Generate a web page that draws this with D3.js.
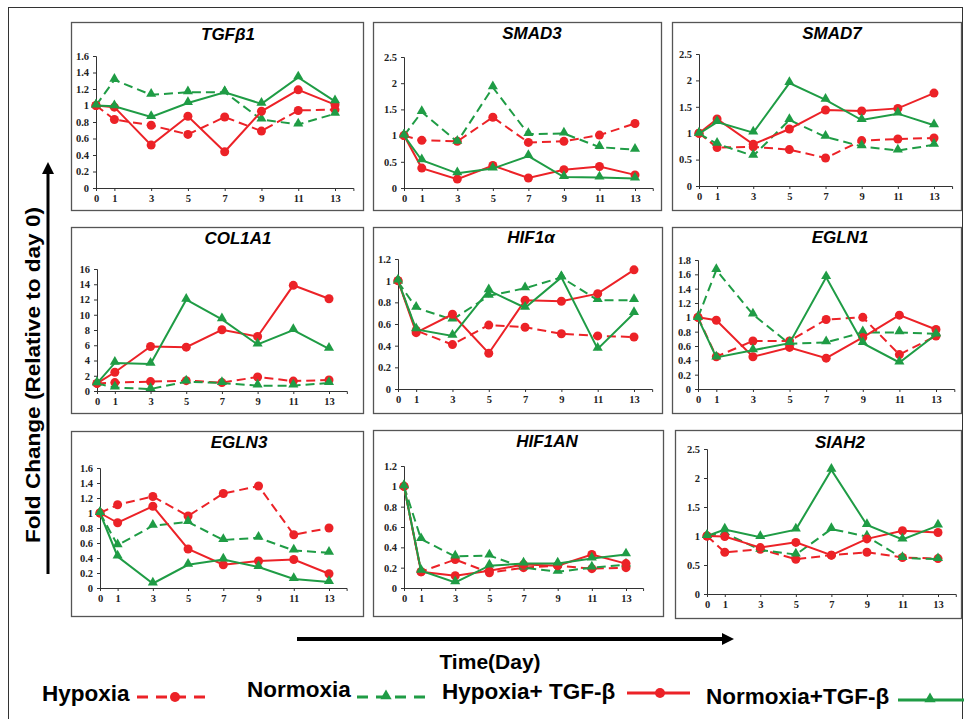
<!DOCTYPE html>
<html>
<head>
<meta charset="utf-8">
<script src="https://cdn.jsdelivr.net/npm/d3@7"></script>
<style>
body { margin: 0; background: #fff; }
svg { display: block; font-family: "Liberation Sans", Arial, sans-serif; }
.axis .tick text { font-family: "Liberation Serif", "Times New Roman", serif; font-weight: bold; font-size: 10.5px; fill: #222; }
.axis path, .axis line { stroke: #333; }
</style>
</head>
<body>
<script>
// days on the x axis
var days = [0, 1, 3, 5, 7, 9, 11, 13];
var seriesNames = ["Hypoxia", "Normoxia", "Hypoxia+ TGF-β", "Normoxia+TGF-β"];
var genes = ["TGFβ1", "SMAD3", "SMAD7", "COL1A1", "HIF1α", "EGLN1", "EGLN3", "HIF1AN", "SIAH2"];

// y axis max and tick step per panel
var yMax  = [1.6, 2.5, 2.5, 16, 1.2, 1.8, 1.6, 1.2, 2.5];
var yStep = [0.2, 0.5, 0.5, 2, 0.2, 0.2, 0.2, 0.2, 0.5];

// values per gene: hypoxia, normoxia, hypoxia+tgf, normoxia+tgf
var tgfb1 = [
  [1.0, 0.83, 0.76, 0.65, 0.86, 0.69, 0.94, 0.95],
  [1.0, 1.31, 1.13, 1.16, 1.16, 0.83, 0.77, 0.90],
  [1.0, 0.98, 0.52, 0.87, 0.44, 0.93, 1.19, 1.01],
  [1.0, 0.99, 0.86, 1.03, 1.16, 1.02, 1.34, 1.05]
];
var smad3 = [
  [1.0, 0.91, 0.89, 1.35, 0.87, 0.89, 1.01, 1.23],
  [1.0, 1.45, 0.88, 1.92, 1.03, 1.04, 0.78, 0.73],
  [1.0, 0.38, 0.17, 0.43, 0.19, 0.35, 0.41, 0.25],
  [1.0, 0.53, 0.28, 0.37, 0.61, 0.21, 0.20, 0.18]
];
var smad7 = [
  [1.0, 0.73, 0.74, 0.69, 0.53, 0.86, 0.89, 0.91],
  [0.99, 0.80, 0.57, 1.25, 0.93, 0.75, 0.67, 0.78],
  [1.0, 1.27, 0.79, 1.08, 1.44, 1.42, 1.47, 1.76],
  [0.99, 1.21, 1.01, 1.95, 1.63, 1.25, 1.37, 1.15]
];
var col1a1 = [
  [1.0, 1.1, 1.23, 1.36, 1.1, 1.84, 1.3, 1.45],
  [1.0, 0.44, 0.26, 1.23, 1.05, 0.7, 0.7, 1.05],
  [1.0, 2.46, 5.83, 5.75, 8.03, 7.15, 13.86, 12.1],
  [1.0, 3.68, 3.55, 11.97, 9.39, 6.1, 7.98, 5.53]
];
var hif1a = [
  [1.0, 0.54, 0.41, 0.59, 0.57, 0.51, 0.49, 0.48],
  [0.99, 0.75, 0.64, 0.86, 0.93, 1.03, 0.82, 0.82],
  [1.0, 0.52, 0.69, 0.33, 0.82, 0.81, 0.88, 1.10],
  [1.0, 0.55, 0.49, 0.91, 0.75, 1.03, 0.37, 0.70]
];
var egln1 = [
  [1.0, 0.45, 0.67, 0.67, 0.97, 1.0, 0.48, 0.74],
  [1.0, 1.66, 1.04, 0.63, 0.65, 0.79, 0.79, 0.77],
  [1.0, 0.96, 0.45, 0.58, 0.43, 0.72, 1.03, 0.83],
  [0.99, 0.44, 0.54, 0.64, 1.56, 0.64, 0.37, 0.76]
];
var egln3 = [
  [1.0, 1.11, 1.22, 0.96, 1.26, 1.36, 0.71, 0.80],
  [1.0, 0.57, 0.83, 0.88, 0.64, 0.67, 0.50, 0.47],
  [1.0, 0.87, 1.09, 0.52, 0.31, 0.36, 0.38, 0.19],
  [1.0, 0.42, 0.06, 0.31, 0.38, 0.28, 0.12, 0.08]
];
var hif1an = [
  [1.0, 0.16, 0.28, 0.15, 0.20, 0.22, 0.19, 0.20],
  [1.0, 0.48, 0.31, 0.32, 0.20, 0.16, 0.20, 0.23],
  [1.0, 0.16, 0.12, 0.17, 0.23, 0.22, 0.33, 0.24],
  [1.0, 0.17, 0.055, 0.22, 0.24, 0.24, 0.29, 0.33]
];
var siah2 = [
  [1.0, 0.72, 0.77, 0.60, 0.67, 0.72, 0.63, 0.61],
  [1.0, 1.05, 0.76, 0.68, 1.12, 0.99, 0.62, 0.60],
  [1.0, 0.99, 0.80, 0.89, 0.67, 0.95, 1.09, 1.06],
  [1.0, 1.11, 0.98, 1.11, 2.14, 1.19, 0.94, 1.18]
];
var geneValues = [tgfb1, smad3, smad7, col1a1, hif1a, egln1, egln3, hif1an, siah2];

var red = "#ec2227", green = "#1f9c45";
var seriesStyle = [
  {color: red,   dash: "9,5", shape: "circle"},
  {color: green, dash: "9,5", shape: "triangle"},
  {color: red,   dash: null,  shape: "circle"},
  {color: green, dash: null,  shape: "triangle"}
];

// panel layout: box, y-axis x, y of zero, y of max, x of day 13, title position
var layout = [
  {box: [71, 22, 363, 210],  ax: 96,  y0: 188, yTop: 56,  x13: 335, tx: 228, ty: 40},
  {box: [373, 22, 661, 210], ax: 404, y0: 188, yTop: 57,  x13: 635, tx: 532, ty: 39},
  {box: [672, 22, 961, 210], ax: 699, y0: 186, yTop: 54,  x13: 934, tx: 832, ty: 39},
  {box: [71, 227, 363, 413], ax: 97,  y0: 391, yTop: 269, x13: 329, tx: 238, ty: 244},
  {box: [373, 227, 662, 413],ax: 398, y0: 389, yTop: 259, x13: 634, tx: 531, ty: 243},
  {box: [672, 227, 961, 413],ax: 698, y0: 389, yTop: 260, x13: 936, tx: 840, ty: 243},
  {box: [71, 431, 363, 616], ax: 100, y0: 588, yTop: 468, x13: 329, tx: 239, ty: 448},
  {box: [373, 430, 663, 616],ax: 404, y0: 588, yTop: 466, x13: 626, tx: 547, ty: 447},
  {box: [675, 430, 961, 618],ax: 707, y0: 594, yTop: 449, x13: 938, tx: 840, ty: 448}
];

var svg = d3.select("body").append("svg")
  .attr("width", 964)
  .attr("height", 719);

// outer frame
svg.append("rect")
  .attr("x", 8.5).attr("y", 7.5)
  .attr("width", 954).attr("height", 720)
  .attr("fill", "none").attr("stroke", "#333").attr("stroke-width", 1);

function marker(g, shape, color, x, y, big) {
  if (shape == "circle") {
    g.append("circle").attr("cx", x).attr("cy", y).attr("r", big ? 5 : 4.5).attr("fill", color);
  } else {
    g.append("path")
      .attr("d", d3.symbol().type(d3.symbolTriangle).size(big ? 55 : 44)())
      .attr("transform", "translate(" + x + "," + (y - 1) + ")")
      .attr("fill", color);
  }
}

geneValues.forEach(function(vals, i) {
  var L = layout[i];
  var g = svg.append("g");

  g.append("rect")
    .attr("x", L.box[0] + 0.5).attr("y", L.box[1] + 0.5)
    .attr("width", L.box[2] - L.box[0]).attr("height", L.box[3] - L.box[1])
    .attr("fill", "#fff").attr("stroke", "#555").attr("stroke-width", 1.3);

  var x = d3.scaleLinear().domain([0, 14]).range([L.ax, L.ax + (L.x13 - L.ax) * 14 / 13]);
  var y = d3.scaleLinear().domain([0, yMax[i]]).range([L.y0, L.yTop]);

  var yTicks = d3.range(0, yMax[i] + yStep[i] / 2, yStep[i]);

  g.append("g").attr("class", "axis")
    .attr("transform", "translate(0," + L.y0 + ")")
    .call(d3.axisBottom(x).tickValues(days).tickSize(3).tickPadding(4).tickFormat(d3.format("d")));

  g.append("g").attr("class", "axis")
    .attr("transform", "translate(" + L.ax + ",0)")
    .call(d3.axisLeft(y).tickValues(yTicks).tickSize(3).tickPadding(4)
      .tickFormat(function(d) { return String(+d.toFixed(1)); }));

  g.selectAll(".axis .domain").attr("stroke-width", 1);

  // title
  g.append("text")
    .attr("x", L.tx).attr("y", L.ty)
    .attr("text-anchor", "middle")
    .style("font-size", "17px").style("font-weight", "bold").style("font-style", "italic")
    .text(genes[i]);

  var line = d3.line()
    .x(function(d, j) { return x(days[j]); })
    .y(function(d) { return y(d); });

  vals.forEach(function(s, k) {
    var st = seriesStyle[k];
    g.append("path")
      .attr("d", line(s))
      .attr("fill", "none")
      .attr("stroke", st.color)
      .attr("stroke-width", 2)
      .attr("stroke-dasharray", st.dash);
    s.forEach(function(v, j) {
      marker(g, st.shape, st.color, x(days[j]), y(v), false);
    });
  });
});

// y label + arrow
svg.append("text")
  .attr("transform", "translate(40,375) rotate(-90)")
  .attr("text-anchor", "middle")
  .attr("textLength", 336).attr("lengthAdjust", "spacingAndGlyphs")
  .style("font-size", "20px").style("font-weight", "bold")
  .text("Fold Change (Relative to day 0)");

svg.append("line")
  .attr("x1", 48).attr("x2", 48).attr("y1", 574).attr("y2", 172)
  .attr("stroke", "#000").attr("stroke-width", 3);
svg.append("path").attr("d", "M42,174 L48,162 L54,174 Z").attr("fill", "#000");

// x label + arrow
svg.append("line")
  .attr("x1", 297).attr("x2", 724).attr("y1", 639).attr("y2", 639)
  .attr("stroke", "#000").attr("stroke-width", 4);
svg.append("path").attr("d", "M722,633 L734,639 L722,645 Z").attr("fill", "#000");

svg.append("text")
  .attr("x", 490).attr("y", 669)
  .attr("text-anchor", "middle")
  .style("font-size", "21px").style("font-weight", "bold")
  .text("Time(Day)");

// legend
var legendPos = [
  {tx: 42,  ty: 701, x0: 137, x1: 213, ly: 697, mx: 175},
  {tx: 247, ty: 697, x0: 357, x1: 426, ly: 697, mx: 386},
  {tx: 442, ty: 699, x0: 627, x1: 690, ly: 693, mx: 660},
  {tx: 706, ty: 704, x0: 898, x1: 964, ly: 700, mx: 930}
];

var legend = svg.append("g");
seriesNames.forEach(function(name, k) {
  var p = legendPos[k], st = seriesStyle[k];
  legend.append("text")
    .attr("x", p.tx).attr("y", p.ty)
    .style("font-size", "22.5px").style("font-weight", "bold")
    .text(name);
  legend.append("line")
    .attr("x1", p.x0).attr("x2", p.x1).attr("y1", p.ly).attr("y2", p.ly)
    .attr("stroke", st.color).attr("stroke-width", 3)
    .attr("stroke-dasharray", st.dash ? "11,8" : null);
  marker(legend, st.shape, st.color, p.mx, p.ly, true);
});
</script>
</body>
</html>
